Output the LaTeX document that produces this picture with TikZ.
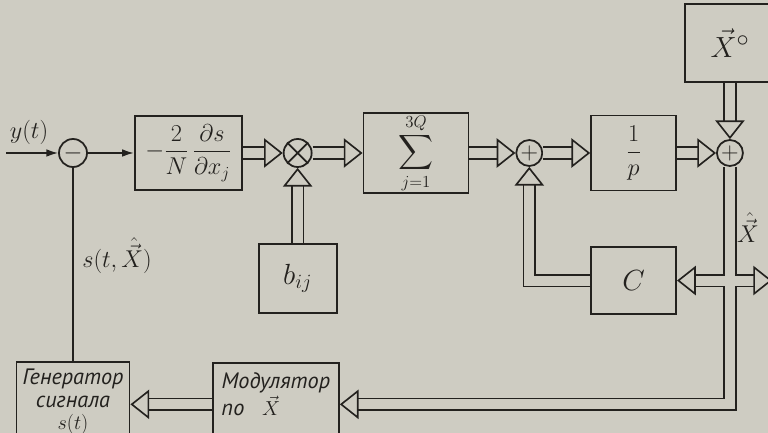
\documentclass[tikz,border=0pt]{standalone}
\usepackage{fontspec}
\setmainfont{PT Sans}
\usepackage{amsmath}
\usetikzlibrary{arrows.meta, positioning, calc}
\definecolor{paper}{RGB}{206,204,194}
\definecolor{ink}{RGB}{35,33,30}

\begin{document}
\begin{tikzpicture}[x=0.03cm, y=-0.03cm,
    hollow/.tip={Triangle[width=25pt, length=16pt, fill=paper]},
    block/.style={rectangle, draw=ink, line width=1.6pt, inner sep=0pt, text=ink, font=\fontsize{20}{24}\selectfont},
    junc/.style={circle, draw=ink, line width=1.5pt, inner sep=0pt, minimum size=0.84cm, text=ink, font=\fontsize{20}{20}\selectfont},
    sig/.style={draw=ink, line width=1.4pt, -{Latex[length=10pt, width=6.5pt]}},
    dbl/.style={draw=ink, line width=1.4pt, double=paper, double distance=8.5pt, -hollow},
    lbl/.style={text=ink, font=\fontsize{20}{22}\selectfont}
]
\useasboundingbox[fill=paper] (0,0) rectangle (768,433);
\clip (0,0) rectangle (768,433);

% main row
\node[junc] (sub) at (73,153) {$-$};
\node[block, minimum width=3.21cm, minimum height=2.22cm, right=1.38cm of sub] (grad) {$-\dfrac{2}{N}\,\dfrac{\partial s}{\partial x_j}$};
\node[junc, right=1.2cm of grad] (mul) {};
\node[block, minimum width=3.15cm, minimum height=2.19cm, right=1.5cm of mul] (sum) {$\displaystyle\sum_{j=1}^{3Q}$};
\node[junc, minimum size=0.78cm, right=1.38cm of sum] (add1) {$+$};
\node[block, minimum width=2.55cm, minimum height=2.25cm, right=1.41cm of add1] (integ) {$\dfrac{1}{p}$};
\node[junc, minimum size=0.78cm, right=1.17cm of integ] (add2) {$+$};

% side blocks
\node[block, minimum width=2.7cm, minimum height=2.34cm, above=1.68cm of add2, font=\fontsize{30}{32}\selectfont] (init) {$\vec{X}^{\circ}$};
\node[block, minimum width=2.34cm, minimum height=2.07cm, below=2.25cm of mul, font=\fontsize{24}{26}\selectfont] (coef) {$b_{ij}$};
\node[block, minimum width=2.55cm, minimum height=2.01cm, below=1.64cm of integ, font=\fontsize{24}{26}\selectfont] (corr) {$C$};
\node[block, minimum width=3.39cm, minimum height=2.55cm, below=5.79cm of sub, align=center, text depth=0.3cm, font=\itshape\fontsize{19}{19}\selectfont] (gen) {Генератор\\сигнала\\$s(t)$};
\node[block, minimum width=3.78cm, minimum height=2.49cm, right=2.445cm of gen, align=left, text depth=0.62cm, font=\itshape\fontsize{19}{23}\selectfont] (mod) {Модулятор\\по~~~$\vec{X}$};

\draw[ink, line width=1.5pt] (mul.north west) -- (mul.south east) (mul.north east) -- (mul.south west);

% connectors
\coordinate[left=1.56cm of sub] (in);
\coordinate[right=2.85cm of corr] (out);
\draw[sig] (in) -- (sub);
\draw[sig] (sub) -- (grad);
\draw[dbl] (grad) -- (mul);
\draw[dbl] (mul) -- (sum);
\draw[dbl] (sum) -- (add1);
\draw[dbl] (add1) -- (integ);
\draw[dbl] (integ) -- (add2);
\draw[dbl] (init) -- (add2);
\draw[dbl] (coef) -- (mul);
\draw[dbl] (corr.west) -| (add1.south);
\draw[dbl] (add2.south) |- (mod.east);
\draw[dbl, hollow-hollow] (corr.east) -- (out);
\coordinate (cross) at (add2 |- corr.east);
\fill[paper] ($(cross)+(-4.25pt,-5.7pt)$) rectangle ($(cross)+(4.25pt,5.7pt)$);
\draw[dbl] (mod) -- (gen);
\draw[ink, line width=1.4pt] (gen) -- (sub);

% labels
\node[lbl] (ylab) at (29,132) {$y(t)$};
\node[lbl] (slab) at (117,256) {$s(t,\hat{\vec{X}})$};
\node[lbl] (xlab) at (748,228) {$\hat{\vec{X}}$};
\end{tikzpicture}
\end{document}
